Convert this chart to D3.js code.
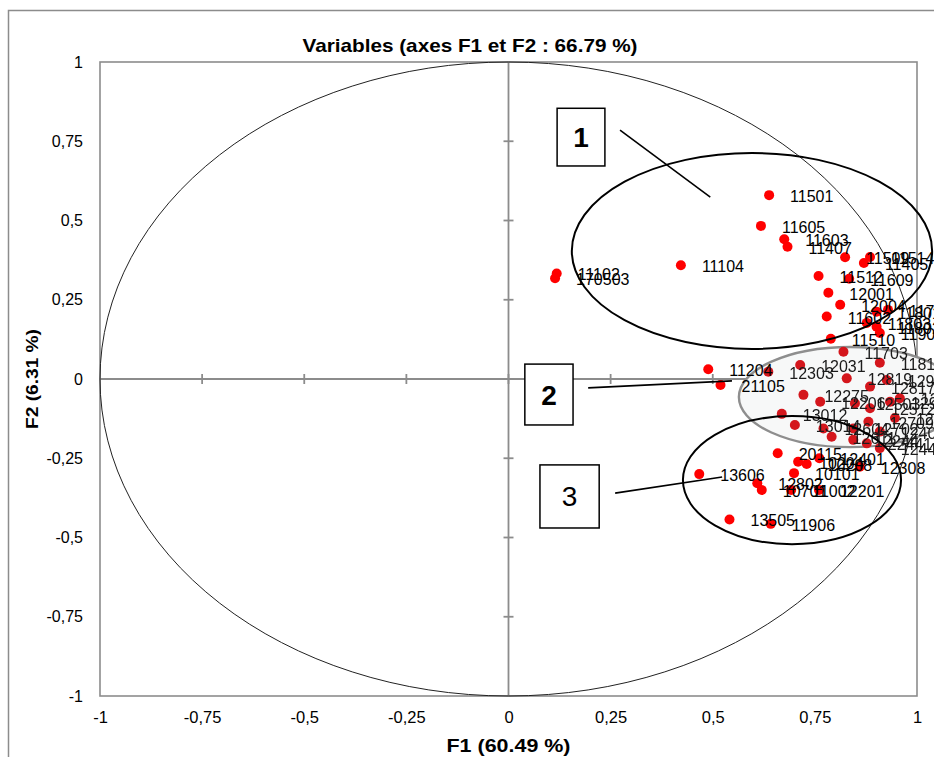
<!DOCTYPE html>
<html>
<head>
<meta charset="utf-8">
<script src="https://cdn.jsdelivr.net/npm/d3@7"></script>
<style>
  html, body { margin: 0; padding: 0; background: #fff; }
  svg { display: block; }
</style>
</head>
<body>
<svg id="chart" width="934" height="757"></svg>
<script>
// Correlation circle: loadings of each variable on F1 and F2
const varNames = [
  "11501","11605","11603","11407","11104","11102","170503","11509","11514","11405",
  "11512","11609","12001","12004","11602","11510","11702","11801","11803","11802",
  "11904","11204","21105",
  "12303","12031","11703","11811","12819","12275","12206","13012","13014","12604",
  "12611","12702","12709","12503","12512","12817","12901","12915","12920","12244",
  "22441","12407","12410","12441",
  "20115","10204","10208","12401","12308","10101","13606","12802","10701","11002",
  "12201","13505","11906"
];
const f1Coords = [
  0.638,0.618,0.675,0.683,0.422,0.118,0.114,0.824,0.885,0.870,
  0.759,0.834,0.783,0.812,0.779,0.789,0.929,0.901,0.877,0.901,
  0.909,0.489,0.519,
  0.636,0.714,0.820,0.909,0.828,0.722,0.763,0.669,0.701,0.771,
  0.791,0.844,0.881,0.848,0.885,0.885,0.926,0.934,0.958,0.844,
  0.877,0.909,0.946,0.909,
  0.659,0.709,0.730,0.761,0.860,0.699,0.467,0.609,0.620,0.692,
  0.760,0.541,0.642
];
const f2Coords = [
  0.580,0.483,0.441,0.417,0.359,0.333,0.318,0.384,0.385,0.366,
  0.325,0.316,0.272,0.234,0.197,0.127,0.218,0.212,0.177,0.165,
  0.145,0.031,-0.019,
  0.023,0.044,0.086,0.051,0.002,-0.050,-0.072,-0.110,-0.145,-0.156,
  -0.182,-0.156,-0.135,-0.077,-0.092,-0.024,-0.003,-0.072,-0.061,-0.192,
  -0.203,-0.166,-0.123,-0.218,
  -0.234,-0.261,-0.268,-0.250,-0.277,-0.297,-0.300,-0.329,-0.350,-0.350,
  -0.350,-0.443,-0.457
];
// group each variable belongs to (the highlighted clusters 1, 2 and 3; 0 = none)
const groupIds = [
  1,1,1,1,1,0,0,1,1,1,
  1,1,1,1,1,1,1,1,1,1,
  1,0,0,
  2,2,2,2,2,2,2,2,2,2,
  2,2,2,2,2,2,2,2,2,2,
  2,2,2,2,
  3,3,3,3,3,3,3,3,3,3,
  3,3,3
];

const tickValues = [-1,-0.75,-0.5,-0.25,0,0.25,0.5,0.75,1];
const chartTitle = "Variables (axes F1 et F2 : 66.79 %)";
const xTitle = "F1 (60.49 %)";
const yTitle = "F2 (6.31 %)";

// Cluster outlines and their numbered call-outs, in F1/F2 units
const clusterEllipses = [
  { id: "1", cx: 0.596, cy: 0.404, rx: 0.441, ry: 0.309 },
  { id: "2", cx: 0.836, cy: -0.057, rx: 0.272, ry: 0.158 },
  { id: "3", cx: 0.694, cy: -0.319, rx: 0.267, ry: 0.202 }
];
const calloutBoxes = [
  { id: "1", x0: 0.119, x1: 0.236, y0: 0.854, y1: 0.672, bold: true },
  { id: "2", x0: 0.040, x1: 0.158, y0: 0.047, y1: -0.145, bold: true },
  { id: "3", x0: 0.077, x1: 0.222, y0: -0.271, y1: -0.470, bold: false }
];
const calloutLines = [
  { x0: 0.273, y0: 0.785, x1: 0.494, y1: 0.574 },
  { x0: 0.195, y0: -0.028, x1: 0.547, y1: -0.006 },
  { x0: 0.261, y0: -0.360, x1: 0.523, y1: -0.309 }
];

const points = varNames.map((name, i) => ({
  name, f1: f1Coords[i], f2: f2Coords[i], group: groupIds[i]
}));

const svg = d3.select("#chart");
const font = "'Liberation Sans', Arial, sans-serif";

const x = d3.scaleLinear().domain([-1, 1]).range([100, 917]);
const y = d3.scaleLinear().domain([-1, 1]).range([696, 62]);

const locale = d3.formatLocale({ decimal: ",", thousands: " ", grouping: [3], currency: ["", ""], minus: "-" });
const fmt = locale.format("~g");

const defs = svg.append("defs");
defs.append("filter").attr("id", "soft")
  .attr("x", "-20%").attr("y", "-20%").attr("width", "140%").attr("height", "140%")
  .append("feGaussianBlur").attr("stdDeviation", 0.7);

// outer chart frame
svg.append("rect")
  .attr("x", 8.5).attr("y", 10.5).attr("width", 960).attr("height", 800)
  .attr("fill", "none").attr("stroke", "#8c8c8c").attr("stroke-width", 1.5);

// title
svg.append("text")
  .attr("x", 470).attr("y", 52)
  .attr("text-anchor", "middle")
  .attr("font-family", font).attr("font-weight", "bold").attr("font-size", 19)
  .attr("textLength", 335).attr("lengthAdjust", "spacingAndGlyphs")
  .text(chartTitle);

// plot area border
svg.append("rect")
  .attr("x", x(-1)).attr("y", y(1))
  .attr("width", x(1) - x(-1)).attr("height", y(-1) - y(1))
  .attr("fill", "none").attr("stroke", "#8c8c8c").attr("stroke-width", 1.6);

// tick labels via axes (labels only)
const xAxis = d3.axisBottom(x).tickValues(tickValues).tickFormat(fmt).tickSize(0).tickPadding(0);
const gx = svg.append("g").attr("transform", `translate(0,${y(-1) + 18})`).call(xAxis);
gx.select(".domain").remove();
gx.selectAll("text").attr("font-family", font).attr("font-size", 16.5).attr("fill", "#000").attr("dy", "0.55em");

const yAxis = d3.axisLeft(y).tickValues(tickValues).tickFormat(fmt).tickSize(0).tickPadding(0);
const gy = svg.append("g").attr("transform", `translate(${x(-1) - 17},0)`).call(yAxis);
gy.select(".domain").remove();
gy.selectAll("text").attr("font-family", font).attr("font-size", 16).attr("fill", "#000");

// zero axes with tick marks
const axisG = svg.append("g").attr("stroke", "#8c8c8c").attr("stroke-width", 1.8);
axisG.append("line").attr("x1", x(-1)).attr("x2", x(1)).attr("y1", y(0)).attr("y2", y(0));
axisG.append("line").attr("x1", x(0)).attr("x2", x(0)).attr("y1", y(1)).attr("y2", y(-1));
axisG.selectAll(".tx").data(tickValues.filter(v => Math.abs(v) < 1)).join("line")
  .attr("x1", d => x(d)).attr("x2", d => x(d))
  .attr("y1", y(0) - 5).attr("y2", y(0) + 5);
axisG.selectAll(".ty").data(tickValues.filter(v => Math.abs(v) < 1)).join("line")
  .attr("y1", d => y(d)).attr("y2", d => y(d))
  .attr("x1", x(0) - 5).attr("x2", x(0) + 5);

// unit circle
svg.append("ellipse")
  .attr("cx", x(0)).attr("cy", y(0))
  .attr("rx", x(1) - x(0)).attr("ry", y(0) - y(1))
  .attr("fill", "none").attr("stroke", "#222").attr("stroke-width", 1);

// axis titles
svg.append("text")
  .attr("x", x(0)).attr("y", 752)
  .attr("text-anchor", "middle")
  .attr("font-family", font).attr("font-weight", "bold").attr("font-size", 18)
  .attr("textLength", 124).attr("lengthAdjust", "spacingAndGlyphs")
  .text(xTitle);
svg.append("text")
  .attr("transform", `translate(38,${y(0)}) rotate(-90)`)
  .attr("text-anchor", "middle")
  .attr("font-family", font).attr("font-weight", "bold").attr("font-size", 17)
  .attr("textLength", 100).attr("lengthAdjust", "spacingAndGlyphs")
  .text(yTitle);

// cluster 2 is drawn as a softened patch
const e2 = clusterEllipses[1];
const g2 = svg.append("g");
g2.append("ellipse")
  .attr("cx", x(e2.cx)).attr("cy", y(e2.cy))
  .attr("rx", x(e2.rx) - x(0)).attr("ry", y(0) - y(e2.ry))
  .attr("fill", "#f7f8f8").attr("stroke", "#8e8e8e").attr("stroke-width", 2.4);
const soft = g2.append("g").attr("filter", "url(#soft)");
const p2 = points.filter(d => d.group === 2);
soft.selectAll("circle").data(p2).join("circle")
  .attr("cx", d => x(d.f1)).attr("cy", d => y(d.f2)).attr("r", 5)
  .attr("fill", "#d4141c");
soft.selectAll("text").data(p2).join("text")
  .attr("x", d => x(d.f1) + 21).attr("y", d => y(d.f2) + 7)
  .attr("font-family", font).attr("font-size", 16).attr("fill", "#1a1a1a")
  .text(d => d.name);

// remaining variables
const pts = points.filter(d => d.group !== 2);
svg.append("g").selectAll("circle").data(pts).join("circle")
  .attr("cx", d => x(d.f1)).attr("cy", d => y(d.f2)).attr("r", 5)
  .attr("fill", "#ff0000");
svg.append("g").selectAll("text").data(pts).join("text")
  .attr("x", d => x(d.f1) + 21).attr("y", d => y(d.f2) + 7)
  .attr("font-family", font).attr("font-size", 16).attr("fill", "#000")
  .text(d => d.name);

// outlines of clusters 1 and 3
svg.append("g").selectAll("ellipse").data(clusterEllipses.filter(d => d.id !== "2")).join("ellipse")
  .attr("cx", d => x(d.cx)).attr("cy", d => y(d.cy))
  .attr("rx", d => x(d.rx) - x(0)).attr("ry", d => y(0) - y(d.ry))
  .attr("fill", "none").attr("stroke", "#000").attr("stroke-width", 2);

// call-out leader lines
svg.append("g").selectAll("line").data(calloutLines).join("line")
  .attr("x1", d => x(d.x0)).attr("y1", d => y(d.y0))
  .attr("x2", d => x(d.x1)).attr("y2", d => y(d.y1))
  .attr("stroke", "#000").attr("stroke-width", 1.6);

// numbered call-out boxes
const boxes = svg.append("g").selectAll("g").data(calloutBoxes).join("g");
boxes.append("rect")
  .attr("x", d => x(d.x0)).attr("y", d => y(d.y0))
  .attr("width", d => x(d.x1) - x(d.x0)).attr("height", d => y(d.y1) - y(d.y0))
  .attr("fill", "#fff").attr("stroke", "#000").attr("stroke-width", 1.5);
boxes.append("text")
  .attr("x", d => (x(d.x0) + x(d.x1)) / 2)
  .attr("y", d => (y(d.y0) + y(d.y1)) / 2 + 10)
  .attr("text-anchor", "middle")
  .attr("font-family", font).attr("font-size", 28)
  .attr("font-weight", d => d.bold ? "bold" : "normal")
  .text(d => d.id);
</script>
</body>
</html>
